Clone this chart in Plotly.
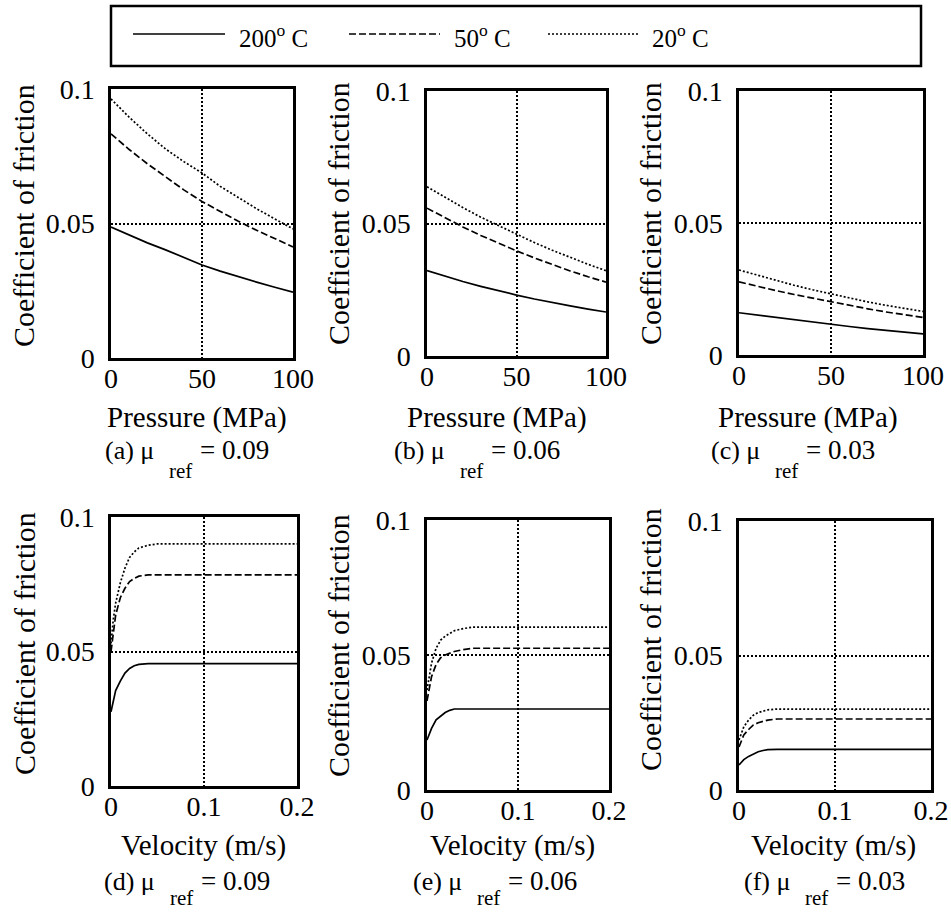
import plotly.graph_objects as go

# ---------------- data ----------------
pressure = [0, 10, 20, 30, 40, 50, 60, 70, 80, 90, 100]
velocity = [0, 0.0025, 0.005, 0.01, 0.015, 0.02, 0.025, 0.03, 0.04, 0.05, 0.1, 0.2]

series_names = ["200<sup>o</sup> C", "50<sup>o</sup> C", "20<sup>o</sup> C"]

# (a) mu_ref = 0.09, pressure
a_200 = [0.0487, 0.0457, 0.0428, 0.0402, 0.0373, 0.0346, 0.0323, 0.0302, 0.0282, 0.0263, 0.0245]
a_50 = [0.0833, 0.0775, 0.0722, 0.0672, 0.0625, 0.0582, 0.0545, 0.0508, 0.0475, 0.0443, 0.0413]
a_20 = [0.0963, 0.0895, 0.0833, 0.0777, 0.0730, 0.0688, 0.0638, 0.0595, 0.0555, 0.0517, 0.0480]
# (b) mu_ref = 0.06, pressure
b_200 = [0.0322, 0.0301, 0.0281, 0.0263, 0.0246, 0.0230, 0.0215, 0.0201, 0.0189, 0.0177, 0.0166]
b_50 = [0.0558, 0.0521, 0.0487, 0.0455, 0.0425, 0.0397, 0.0370, 0.0345, 0.0321, 0.0299, 0.0279]
b_20 = [0.0639, 0.0598, 0.0560, 0.0524, 0.0491, 0.0460, 0.0428, 0.0399, 0.0371, 0.0346, 0.0322]
# (c) mu_ref = 0.03, pressure
c_200 = [0.0160, 0.0151, 0.0142, 0.0133, 0.0125, 0.0117, 0.0108, 0.0100, 0.0093, 0.0086, 0.0080]
c_50 = [0.0277, 0.0260, 0.0244, 0.0229, 0.0215, 0.0202, 0.0188, 0.0175, 0.0163, 0.0152, 0.0142]
c_20 = [0.0322, 0.0302, 0.0282, 0.0264, 0.0247, 0.0231, 0.0215, 0.0201, 0.0188, 0.0176, 0.0165]
# (d) mu_ref = 0.09, velocity
d_200 = [0.0276, 0.0320, 0.0355, 0.0390, 0.0420, 0.0437, 0.0447, 0.0452, 0.0455, 0.0455, 0.0455, 0.0455]
d_50 = [0.0500, 0.0580, 0.0635, 0.0700, 0.0735, 0.0760, 0.0772, 0.0780, 0.0785, 0.0785, 0.0785, 0.0785]
d_20 = [0.0530, 0.0620, 0.0680, 0.0755, 0.0810, 0.0850, 0.0870, 0.0885, 0.0895, 0.0900, 0.0900, 0.0900]
# (e) mu_ref = 0.06, velocity
e_200 = [0.0185, 0.0210, 0.0228, 0.0260, 0.0275, 0.0287, 0.0295, 0.0300, 0.0300, 0.0300, 0.0300, 0.0300]
e_50 = [0.0330, 0.0380, 0.0420, 0.0465, 0.0490, 0.0500, 0.0508, 0.0513, 0.0520, 0.0525, 0.0525, 0.0525]
e_20 = [0.0370, 0.0430, 0.0470, 0.0525, 0.0555, 0.0570, 0.0580, 0.0590, 0.0598, 0.0603, 0.0603, 0.0603]
# (f) mu_ref = 0.03, velocity
f_200 = [0.0093, 0.0105, 0.0113, 0.0125, 0.0135, 0.0142, 0.0147, 0.0150, 0.0151, 0.0151, 0.0151, 0.0151]
f_50 = [0.0160, 0.0185, 0.0205, 0.0225, 0.0242, 0.0250, 0.0256, 0.0260, 0.0264, 0.0264, 0.0264, 0.0264]
f_20 = [0.0186, 0.0215, 0.0235, 0.0260, 0.0278, 0.0288, 0.0294, 0.0298, 0.0301, 0.0301, 0.0301, 0.0301]

pressure_ticks = [0, 50, 100]
velocity_ticks = [0, 0.1, 0.2]
velocity_ticktext = ["0", "0.1", "0.2"]
friction_ticks = [0, 0.05, 0.1]
friction_ticktext = ["0", "0.05", "0.1"]

caption_heads = ["(a) μ", "(b) μ", "(c) μ", "(d) μ", "(e) μ", "(f) μ"]
caption_sub = "ref"
caption_values = ["= 0.09", "= 0.06", "= 0.03", "= 0.09", "= 0.06", "= 0.03"]
x_titles = ["Pressure (MPa)"] * 3 + ["Velocity (m/s)"] * 3
y_title = "Coefficient of friction"

# ---------------- layout geometry (pixels) ----------------
W, H = 951, 912
FONT = "Liberation Serif, Times New Roman, serif"


def fx(px):
    return px / W


def fy(py):
    return 1 - py / H


# panel boxes: left, right, top, bottom
boxes = [(111, 293, 89, 358), (427, 606, 91, 356), (739, 923, 91, 355),
         (111, 297, 517, 786), (427, 609, 520, 790), (739, 931, 521, 790)]
xtitle_pos = [(197, 417), (497, 417), (808, 417), (203, 845), (512, 845), (833, 845)]
caption_pos = [(112, 450), (403, 450), (718, 450), (113, 881), (420, 881), (748, 881)]
sub_offset = [21, 21, 21, 17, 17, 17]
ytitle_pos = [(24, 216), (338, 214), (650, 214), (24, 644), (338, 646), (650, 640)]

line_styles = [dict(color="black", width=1.7, dash="solid"),
               dict(color="black", width=1.7, dash="7px,3px"),
               dict(color="black", width=1.7, dash="2px,2px")]

panels = [
    (pressure, [a_200, a_50, a_20]),
    (pressure, [b_200, b_50, b_20]),
    (pressure, [c_200, c_50, c_20]),
    (velocity, [d_200, d_50, d_20]),
    (velocity, [e_200, e_50, e_20]),
    (velocity, [f_200, f_50, f_20]),
]

fig = go.Figure()
layout = dict(
    width=W, height=H,
    margin=dict(l=0, r=0, t=0, b=0, autoexpand=False),
    paper_bgcolor="white", plot_bgcolor="white",
    showlegend=False,
    font=dict(family=FONT, size=28, color="black"),
)

annotations = []
shapes = []
grid_dash = "2px,2px"

for i, (xs, ys_list) in enumerate(panels):
    n = "" if i == 0 else str(i + 1)
    xa, ya = "x" + n, "y" + n
    for ys, st, nm in zip(ys_list, line_styles, series_names):
        fig.add_trace(go.Scatter(x=xs, y=ys, mode="lines", line=st, name=nm,
                                 xaxis=xa, yaxis=ya, showlegend=False))
    l, r, t, b = boxes[i]
    is_p = i < 3
    layout["xaxis" + n] = dict(
        domain=[fx(l), fx(r)], anchor=ya, automargin=False,
        range=[0, 100] if is_p else [0, 0.2],
        tickmode="array",
        tickvals=pressure_ticks if is_p else velocity_ticks,
        ticktext=[str(v) for v in pressure_ticks] if is_p else velocity_ticktext,
        showline=True, mirror=True, linecolor="black", linewidth=2.5,
        showgrid=True, gridcolor="black", gridwidth=1.5, griddash=grid_dash,
        zeroline=False,
        ticks="", ticklabelstandoff=-6,
        tickfont=dict(family=FONT, size=28, color="black"),
    )
    layout["yaxis" + n] = dict(
        domain=[fy(b), fy(t)], anchor=xa, automargin=False,
        range=[0, 0.1],
        tickmode="array", tickvals=friction_ticks, ticktext=friction_ticktext,
        showline=True, mirror=True, linecolor="black", linewidth=2.5,
        showgrid=True, gridcolor="black", gridwidth=1.5, griddash=grid_dash,
        zeroline=False,
        ticks="outside", ticklen=8, tickcolor="rgba(0,0,0,0)",
        tickfont=dict(family=FONT, size=28, color="black"),
    )
    annotations.append(dict(text=x_titles[i], x=fx(xtitle_pos[i][0]), y=fy(xtitle_pos[i][1]),
                            xref="paper", yref="paper", showarrow=False,
                            xanchor="center", yanchor="middle",
                            font=dict(family=FONT, size=29, color="black")))
    cx, cy = caption_pos[i]
    annotations.append(dict(text=caption_heads[i], x=fx(cx + 44), y=fy(cy),
                            xref="paper", yref="paper", showarrow=False,
                            xanchor="right", yanchor="middle",
                            font=dict(family=FONT, size=26, color="black")))
    annotations.append(dict(text=caption_sub, x=fx(cx + 68), y=fy(cy + sub_offset[i]),
                            xref="paper", yref="paper", showarrow=False,
                            xanchor="center", yanchor="middle",
                            font=dict(family=FONT, size=21, color="black")))
    annotations.append(dict(text=caption_values[i], x=fx(cx + 86), y=fy(cy),
                            xref="paper", yref="paper", showarrow=False,
                            xanchor="left", yanchor="middle",
                            font=dict(family=FONT, size=27, color="black")))
    annotations.append(dict(text=y_title, x=fx(ytitle_pos[i][0]), y=fy(ytitle_pos[i][1]),
                            xref="paper", yref="paper", showarrow=False, textangle=-90,
                            xanchor="center", yanchor="middle",
                            font=dict(family=FONT, size=30, color="black")))

# ---------------- legend box (drawn) ----------------
shapes.append(dict(type="rect", xref="paper", yref="paper",
                   x0=fx(111), x1=fx(921), y0=fy(66), y1=fy(6),
                   line=dict(color="black", width=2.5), fillcolor="white", layer="above"))
legend_samples = [(133, 225, 237), (349, 440, 452), (548, 640, 650)]
for (x0, x1, tx), st, nm in zip(legend_samples, line_styles, series_names):
    shapes.append(dict(type="line", xref="paper", yref="paper",
                       x0=fx(x0), x1=fx(x1), y0=fy(34), y1=fy(34),
                       line=dict(color="black", width=1.7, dash=st["dash"]), layer="above"))
    annotations.append(dict(text=nm, x=fx(tx), y=fy(36), xref="paper", yref="paper",
                            showarrow=False, xanchor="left", yanchor="middle",
                            font=dict(family=FONT, size=25, color="black")))

layout["annotations"] = annotations
layout["shapes"] = shapes
fig.update_layout(**layout)
fig.write_html("out.html")
